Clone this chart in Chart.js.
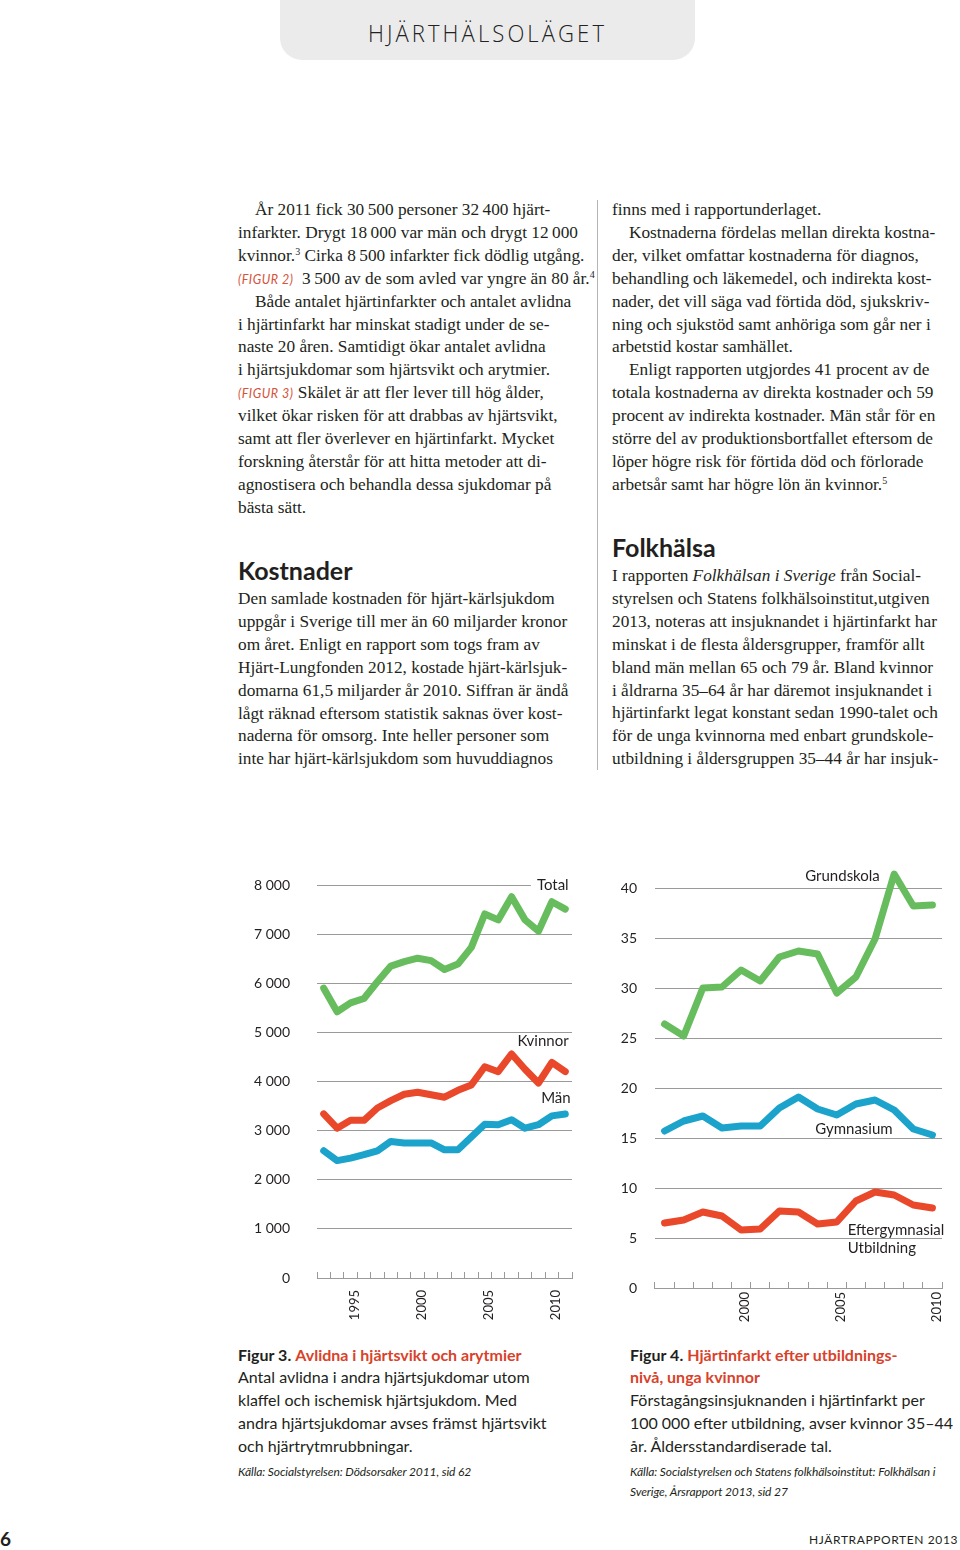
<!DOCTYPE html>
<html lang="sv">
<head>
<meta charset="utf-8">
<script src="https://cdn.jsdelivr.net/npm/chart.js@4/dist/chart.umd.min.js"></script>
<style>
  html, body { margin: 0; padding: 0; background: #fff; }
  body { width: 960px; height: 1550px; position: relative; overflow: hidden; color: #231f20; }
  .abs { position: absolute; }
  .tab { left: 280px; top: -30px; width: 415px; height: 90px; background: #ebebeb; border-radius: 22px; }
  .tabtxt { left: 280px; top: 17px; width: 415px; text-align: center; font: 300 23px "Open Sans", sans-serif; letter-spacing: 3.2px; color: #222; transform: scaleX(0.96); }
  .body { font-family: "Liberation Serif", serif; font-size: 17.3px; line-height: 22.9px; white-space: nowrap; }
  .ind { padding-left: 17px; }
  .fig { font: italic 12.5px Lato, sans-serif; color: #d5533b; letter-spacing: 0.5px; }
  h2 { margin: 0; font: 700 25px Lato, sans-serif; color: #231f20; }
  .cap { font: 16px Lato, sans-serif; line-height: 22.8px; white-space: nowrap; }
  .cap b { font-weight: 700; }
  .red { color: #d9422a; font-weight: 700; }
  .src { font: italic 12px Lato, sans-serif; line-height: 20px; white-space: nowrap; letter-spacing: -0.1px; }
  sup { font-size: 10px; line-height: 0; vertical-align: 6px; }
  .rule { left: 597px; top: 200px; width: 1px; height: 570px; background: #b5b5b5; }
  canvas { position: absolute; }
</style>
</head>
<body>
<div class="abs tab"></div>
<div class="abs tabtxt">HJÄRTHÄLSOLÄGET</div>

<div class="abs body" style="left:238px; top:199px;">
  <div class="ind">År 2011 fick 30&#8239;500 personer 32&#8239;400 hjärt-</div>
  <div>infarkter. Drygt 18&#8239;000 var män och drygt 12&#8239;000</div>
  <div>kvinnor.<sup>3</sup> Cirka 8&#8239;500 infarkter fick dödlig utgång.</div>
  <div><span class="fig">(FIGUR 2)</span>&nbsp; 3&#8239;500 av de som avled var yngre än 80 år.<sup>4</sup></div>
  <div class="ind">Både antalet hjärtinfarkter och antalet avlidna</div>
  <div>i hjärtinfarkt har minskat stadigt under de se-</div>
  <div>naste 20 åren. Samtidigt ökar antalet avlidna</div>
  <div>i hjärtsjukdomar som hjärtsvikt och arytmier.</div>
  <div><span class="fig">(FIGUR 3)</span> Skälet är att fler lever till hög ålder,</div>
  <div>vilket ökar risken för att drabbas av hjärtsvikt,</div>
  <div>samt att fler överlever en hjärtinfarkt. Mycket</div>
  <div>forskning återstår för att hitta metoder att di-</div>
  <div>agnostisera och behandla dessa sjukdomar på</div>
  <div>bästa sätt.</div>
</div>

<h2 class="abs" style="left:238px; top:555px;">Kostnader</h2>
<div class="abs body" style="left:238px; top:588px;">
  <div>Den samlade kostnaden för hjärt-kärlsjukdom</div>
  <div>uppgår i Sverige till mer än 60 miljarder kronor</div>
  <div>om året. Enligt en rapport som togs fram av</div>
  <div>Hjärt-Lungfonden 2012, kostade hjärt-kärlsjuk-</div>
  <div>domarna 61,5 miljarder år 2010. Siffran är ändå</div>
  <div>lågt räknad eftersom statistik saknas över kost-</div>
  <div>naderna för omsorg. Inte heller personer som</div>
  <div>inte har hjärt-kärlsjukdom som huvuddiagnos</div>
</div>

<div class="abs rule"></div>

<div class="abs body" style="left:612px; top:199px;">
  <div>finns med i rapportunderlaget.</div>
  <div class="ind">Kostnaderna fördelas mellan direkta kostna-</div>
  <div>der, vilket omfattar kostnaderna för diagnos,</div>
  <div>behandling och läkemedel, och indirekta kost-</div>
  <div>nader, det vill säga vad förtida död, sjukskriv-</div>
  <div>ning och sjukstöd samt anhöriga som går ner i</div>
  <div>arbetstid kostar samhället.</div>
  <div class="ind">Enligt rapporten utgjordes 41 procent av de</div>
  <div>totala kostnaderna av direkta kostnader och 59</div>
  <div>procent av indirekta kostnader. Män står för en</div>
  <div>större del av produktionsbortfallet eftersom de</div>
  <div>löper högre risk för förtida död och förlorade</div>
  <div>arbetsår samt har högre lön än kvinnor.<sup>5</sup></div>
</div>

<h2 class="abs" style="left:612px; top:532px;">Folkhälsa</h2>
<div class="abs body" style="left:612px; top:565px;">
  <div>I rapporten <i>Folkhälsan i Sverige</i> från Social-</div>
  <div>styrelsen och Statens folkhälsoinstitut,utgiven</div>
  <div>2013, noteras att insjuknandet i hjärtinfarkt har</div>
  <div>minskat i de flesta åldersgrupper, framför allt</div>
  <div>bland män mellan 65 och 79 år. Bland kvinnor</div>
  <div>i åldrarna 35–64 år har däremot insjuknandet i</div>
  <div>hjärtinfarkt legat konstant sedan 1990-talet och</div>
  <div>för de unga kvinnorna med enbart grundskole-</div>
  <div>utbildning i åldersgruppen 35–44 år har insjuk-</div>
</div>

<canvas id="figur3" width="350" height="480" style="left:230px; top:855px;"></canvas>
<canvas id="figur4" width="355" height="480" style="left:600px; top:855px;"></canvas>

<div class="abs cap" style="left:238px; top:1343.6px;">
  <div><b>Figur 3.</b> <span class="red">Avlidna i hjärtsvikt och arytmier</span></div>
  <div>Antal avlidna i andra hjärtsjukdomar utom</div>
  <div>klaffel och ischemisk hjärtsjukdom. Med</div>
  <div>andra hjärtsjukdomar avses främst hjärtsvikt</div>
  <div>och hjärtrytmrubbningar.</div>
</div>
<div class="abs src" style="left:238px; top:1462px;">Källa: Socialstyrelsen: Dödsorsaker 2011, sid 62</div>

<div class="abs cap" style="left:630px; top:1343.6px;">
  <div><b>Figur 4.</b> <span class="red">Hjärtinfarkt efter utbildnings-</span></div>
  <div><span class="red">nivå, unga kvinnor</span></div>
  <div>Förstagångsinsjuknanden i hjärtinfarkt per</div>
  <div>100&#8239;000 efter utbildning, avser kvinnor 35–44</div>
  <div>år. Åldersstandardiserade tal.</div>
</div>
<div class="abs src" style="left:630px; top:1462px;">Källa: Socialstyrelsen och Statens folkhälsoinstitut: Folkhälsan i<br>Sverige, Årsrapport 2013, sid 27</div>

<div class="abs" style="left:0px; top:1527px; font: 700 19px Lato, sans-serif;">6</div>
<div class="abs" style="right:2px; top:1532px; font: 12px Lato, sans-serif; letter-spacing: 0.6px;">HJÄRTRAPPORTEN 2013</div>

<script>
'use strict';

// Figur 3 - avlidna i hjärtsvikt och arytmier
const arFigur3 = ['1992', '1993', '1994', '1995', '1996', '1997', '1998', '1999', '2000', '2001',
    '2002', '2003', '2004', '2005', '2006', '2007', '2008', '2009', '2010'];
const total = [5900, 5420, 5600, 5690, 6030, 6350, 6440, 6510, 6460, 6280, 6390, 6730, 7410, 7290, 7760, 7290, 7060, 7660, 7510];
const kvinnor = [3340, 3050, 3210, 3210, 3460, 3610, 3740, 3780, 3730, 3680, 3820, 3930, 4300, 4200, 4560, 4250, 3970, 4390, 4200];
const man = [2590, 2390, 2440, 2510, 2590, 2780, 2750, 2750, 2750, 2610, 2610, 2870, 3130, 3120, 3220, 3050, 3120, 3300, 3340];
const visadeArFigur3 = ['1995', '2000', '2005', '2010'];

// Figur 4 - hjärtinfarkt efter utbildningsnivå, unga kvinnor
const arFigur4 = ['1996', '1997', '1998', '1999', '2000', '2001', '2002', '2003', '2004', '2005',
    '2006', '2007', '2008', '2009', '2010'];
const grundskola = [26.4, 25.2, 30.0, 30.1, 31.8, 30.7, 33.1, 33.7, 33.4, 29.5, 31.1, 34.9, 41.4, 38.2, 38.3];
const gymnasium = [15.7, 16.7, 17.2, 16.0, 16.2, 16.2, 18.0, 19.1, 17.9, 17.3, 18.4, 18.8, 17.8, 15.9, 15.3];
const eftergymnasial = [6.5, 6.8, 7.6, 7.2, 5.8, 5.9, 7.7, 7.6, 6.4, 6.6, 8.7, 9.6, 9.3, 8.3, 8.0];
const visadeArFigur4 = ['2000', '2005', '2010'];

const GRON = '#67bd5d';
const ROD = '#e9482b';
const BLA = '#1ba3cb';
const GRID = '#9a9a9a';
const TEXT = '#231f20';

Chart.defaults.font.family = 'Lato, sans-serif';
Chart.defaults.color = TEXT;

function tusental(v) {
    // 8000 -> "8 000"
    return v >= 1000 ? Math.floor(v / 1000) + ' ' + String(v % 1000).padStart(3, '0') : String(v);
}

function serie(data, farg) {
    return {
        data: data,
        borderColor: farg,
        borderWidth: 7,
        borderJoinStyle: 'round',
        borderCapStyle: 'round',
        pointRadius: 0,
        tension: 0,
        clip: false
    };
}

// skriver seriernas namn vid linjerna
const serieEtiketter = {
    id: 'serieEtiketter',
    afterDatasetsDraw(chart, args, opts) {
        const {ctx, scales: {x, y}} = chart;
        ctx.save();
        ctx.font = '15px Lato, sans-serif';
        ctx.textBaseline = 'middle';
        ctx.textAlign = 'left';
        opts.items.forEach(item => {
            const px = x.getPixelForValue(item.at);
            const py = y.getPixelForValue(item.value);
            const w = ctx.measureText(item.text).width;
            let left = px;
            if (item.align === 'right') left = px - w;
            if (item.align === 'center') left = px - w / 2;
            if (item.knockout) {
                ctx.fillStyle = '#fff';
                ctx.fillRect(left - 6, py - 9, w + 10, 18);
            }
            ctx.fillStyle = TEXT;
            ctx.fillText(item.text, left, py);
        });
        ctx.restore();
    }
};

// ingen automatisk marginal for etiketterna, diagramytan ska ligga fast
function utanMarginal(s) {
    s.paddingLeft = 0;
    s.paddingRight = 0;
    s.paddingTop = 0;
    s.paddingBottom = 0;
}

function skapaDiagram(id, ar, visadeAr, dataset, yOpts, layout, etiketter) {
    return new Chart(document.getElementById(id), {
        type: 'line',
        data: { labels: ar, datasets: dataset },
        plugins: [serieEtiketter],
        options: {
            responsive: false,
            animation: false,
            layout: { padding: { top: layout.top, right: layout.right, left: 0, bottom: 0 } },
            plugins: {
                legend: { display: false },
                tooltip: { enabled: false },
                serieEtiketter: { items: etiketter }
            },
            scales: {
                x: {
                    type: 'category',
                    offset: true,
                    grid: {
                        offset: true,
                        drawOnChartArea: false,
                        drawTicks: true,
                        tickLength: -6,
                        color: GRID,
                        lineWidth: 1
                    },
                    border: { display: true, color: GRID, width: 1 },
                    ticks: {
                        autoSkip: false,
                        minRotation: 90,
                        maxRotation: 90,
                        padding: layout.xPad,
                        labelOffset: layout.labelOffset,
                        font: { size: 13 },
                        callback: function (value) {
                            const lab = this.getLabelForValue(value);
                            return visadeAr.includes(lab) ? lab : '';
                        }
                    },
                    afterFit: s => { s.height = layout.xHeight; utanMarginal(s); }
                },
                y: {
                    min: yOpts.min,
                    max: yOpts.max,
                    grid: { drawTicks: false, color: GRID, lineWidth: 1 },
                    border: { display: false },
                    ticks: {
                        stepSize: yOpts.step,
                        padding: layout.yPad,
                        font: { size: 14 },
                        callback: v => tusental(v)
                    },
                    afterFit: s => { s.width = layout.yWidth; utanMarginal(s); }
                }
            }
        }
    });
}

skapaDiagram('figur3', arFigur3, visadeArFigur3,
    [serie(total, GRON), serie(kvinnor, ROD), serie(man, BLA)],
    { min: 0, max: 8000, step: 1000 },
    { top: 30, right: 8, xHeight: 57, yWidth: 87, yPad: 27, xPad: 18, labelOffset: -9 },
    [
        { text: 'Total', at: 18.25, value: 8000, align: 'right', knockout: true },
        { text: 'Kvinnor', at: 18.25, value: 4830, align: 'right' },
        { text: 'Män', at: 18.4, value: 3670, align: 'right' }
    ]);

skapaDiagram('figur4', arFigur4, visadeArFigur4,
    [serie(grundskola, GRON), serie(gymnasium, BLA), serie(eftergymnasial, ROD)],
    { min: 0, max: 40, step: 5 },
    { top: 33, right: 13, xHeight: 47, yWidth: 55, yPad: 18, xPad: 10, labelOffset: 4 },
    [
        { text: 'Grundskola', at: 9.3, value: 41.2, align: 'center' },
        { text: 'Gymnasium', at: 9.9, value: 15.9, align: 'center' },
        { text: 'Eftergymnasial', at: 9.57, value: 5.8, align: 'left' },
        { text: 'Utbildning', at: 9.57, value: 4.0, align: 'left' }
    ]);
</script>
</body>
</html>
